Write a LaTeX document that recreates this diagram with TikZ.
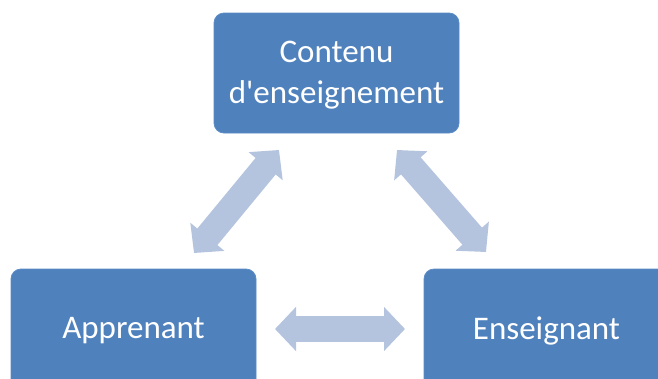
\documentclass[tikz,border=0pt]{standalone}
\usepackage{fontspec}
\setmainfont{Carlito}
\usetikzlibrary{arrows.meta}
\definecolor{boxblue}{HTML}{4F81BD}
\definecolor{boxedge}{HTML}{5B8CC6}
\definecolor{arrowblue}{HTML}{B4C3DE}
\tikzset{
  box/.style={rectangle, rounded corners=10pt, fill=boxblue, draw=boxedge, line width=0.8pt,
    minimum width=245pt, minimum height=120pt, inner sep=0pt, align=center,
    text=white, font=\fontsize{33}{41}\selectfont},
  dblarrow/.style={draw=arrowblue, line width=26pt,
    {Triangle[length=21pt,width=43pt]}-{Triangle[length=21pt,width=43pt]}}
}
\begin{document}
\begin{tikzpicture}[x=1pt,y=-1pt]
\useasboundingbox (0,0) rectangle (658,378);
\clip (0,0) rectangle (658,378);
\node[box] (contenu) at (336.5,73) {};
\node[text=white, font=\fontsize{33}{41}\selectfont, align=center] (contenutext) at (336.5,75) {Contenu\\d\textquotesingle enseignement};
\node[box] (apprenant) at (133.5,329) {};
\node[text=white, font=\fontsize{33}{41}\selectfont] (apprenanttext) at (133.5,331) {Apprenant};
\node[box] (enseignant) at (546.5,329) {};
\node[text=white, font=\fontsize{33}{41}\selectfont] (enseignanttext) at (546.5,331) {Enseignant};
\coordinate (a1) at (194,253);
\coordinate (a2) at (279,150);
\coordinate (b1) at (397,150);
\coordinate (b2) at (486,252);
\coordinate (c1) at (275,329);
\coordinate (c2) at (405,329);
\draw[dblarrow] (a1) -- (a2);
\draw[dblarrow] (b1) -- (b2);
\draw[dblarrow] (c1) -- (c2);
\end{tikzpicture}
\end{document}
